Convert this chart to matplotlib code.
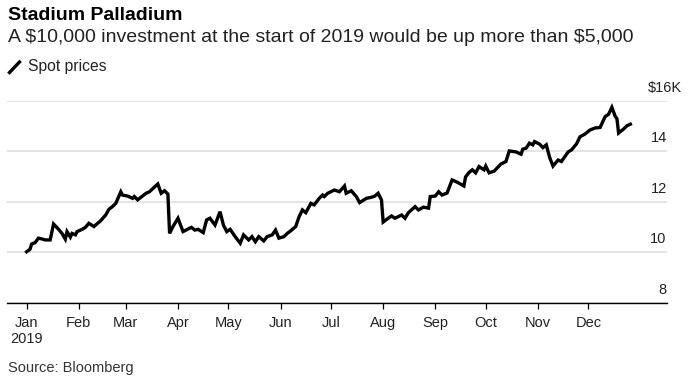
import matplotlib
matplotlib.use("Agg")
import matplotlib.pyplot as plt
from matplotlib.lines import Line2D
import pandas as pd

plt.rcParams["font.family"] = ["Liberation Sans", "DejaVu Sans"]

# days after 2019-01-01 and value of a $10,000 investment (in $K)
days = [
    0, 2, 3, 5, 7, 9, 11, 14, 16, 19,
    21, 23, 24, 26, 27, 29, 30, 33, 35, 37,
    40, 41, 44, 47, 49, 51, 53, 56, 57, 60,
    63, 64, 66, 71, 73, 78, 80, 82, 84, 85,
    87, 90, 93, 98, 100, 102, 105, 107, 109, 112,
    115, 117, 119, 121, 124, 127, 129, 132, 134, 136,
    138, 141, 143, 146, 148, 150, 153, 155, 157, 160,
    162, 164, 166, 169, 171, 174, 176, 177, 179, 183,
    186, 189, 190, 193, 196, 198, 202, 205, 207, 209,
    211, 212, 215, 217, 219, 223, 225, 227, 231, 233,
    236, 239, 240, 243, 245, 247, 250, 253, 256, 260,
    261, 263, 265, 267, 269, 272, 273, 275, 278, 282,
    285, 287, 291, 294, 295, 297, 299, 301, 302, 305,
    307, 309, 311, 313, 316, 318, 322, 324, 327, 329,
    332, 335, 338, 341, 344, 346, 348, 350, 351, 352,
    355, 357, 359,
]
values = [
    10.02, 10.12, 10.33, 10.38, 10.56, 10.53, 10.49, 10.49, 11.12, 10.91,
    10.75, 10.52, 10.82, 10.60, 10.75, 10.69, 10.82, 10.91, 10.99, 11.15,
    11.02, 11.08, 11.25, 11.48, 11.71, 11.81, 11.94, 12.40, 12.27, 12.23,
    12.14, 12.21, 12.08, 12.34, 12.40, 12.71, 12.34, 12.44, 12.31, 10.75,
    11.02, 11.35, 10.82, 10.99, 10.88, 10.91, 10.78, 11.28, 11.35, 11.08,
    11.61, 11.08, 10.82, 10.91, 10.62, 10.36, 10.69, 10.49, 10.62, 10.42,
    10.62, 10.45, 10.62, 10.69, 10.88, 10.56, 10.62, 10.75, 10.85, 11.02,
    11.41, 11.68, 11.57, 11.94, 11.88, 12.14, 12.27, 12.21, 12.34, 12.47,
    12.40, 12.63, 12.34, 12.44, 12.21, 11.97, 12.14, 12.18, 12.23, 12.34,
    12.08, 11.20, 11.35, 11.44, 11.35, 11.48, 11.35, 11.57, 11.81, 11.68,
    11.79, 11.75, 12.21, 12.23, 12.40, 12.27, 12.35, 12.87, 12.78, 12.63,
    12.99, 13.16, 13.27, 13.15, 13.40, 13.27, 13.42, 13.15, 13.22, 13.50,
    13.60, 14.02, 13.98, 13.89, 14.09, 14.13, 14.33, 14.26, 14.39, 14.29,
    14.15, 14.26, 13.76, 13.42, 13.66, 13.60, 13.98, 14.06, 14.30, 14.58,
    14.69, 14.85, 14.93, 14.95, 15.38, 15.47, 15.75, 15.39, 15.30, 14.73,
    14.89, 15.02, 15.08,
]
y_ticks = [8, 10, 12, 14, 16]
y_labels = ["8", "10", "12", "14", "$16K"]

start = pd.Timestamp("2019-01-01")
dates = start + pd.to_timedelta(days, unit="D")

fig = plt.figure(figsize=(6.93, 3.87), dpi=100)
ax = fig.add_axes([7.3 / 693, 1 - 302.7 / 387, (666.7 - 7.3) / 693, (302.7 - 101) / 387])

ax.plot(dates, values, color="black", linewidth=2.4, solid_joinstyle="miter", zorder=3)

ax.set_ylim(8, 16)
ax.set_xlim(start - pd.Timedelta(days=11.5), start + pd.Timedelta(days=380.6))
ax.set_yticks(y_ticks)
ax.tick_params(axis="y", length=0, labelleft=False, labelright=False)
ax.grid(axis="y", color="#dcdcdc", linewidth=1.1)
ax.set_axisbelow(True)
for spine in ("top", "right", "left"):
    ax.spines[spine].set_visible(False)
ax.spines["bottom"].set_color("black")
ax.spines["bottom"].set_linewidth(1.0)

month_labels = [pd.Timestamp(2019, m, 1).strftime("%b") for m in range(1, 13)]
month_labels[0] = "Jan\n2019"
ax.set_xticks(pd.date_range("2019-01-01", periods=12, freq="MS"))
ax.set_xticklabels(month_labels, fontsize=10.5, color="#222222", linespacing=1.2)
ax.tick_params(axis="x", length=4.5, width=0.9, color="black", pad=5)

for v, lab in zip(y_ticks, y_labels):
    dx = 11 if lab.startswith("$") else 0
    ax.annotate(lab, xy=(1, v), xycoords=("axes fraction", "data"),
                xytext=(dx, 6.5), textcoords="offset points",
                ha="right", va="baseline", fontsize=10.5, color="#222222",
                annotation_clip=False)

fig.text(8 / 693, 1 - 15 / 387, "Stadium Palladium", fontsize=14,
         fontweight="bold", va="center", ha="left", color="black")
fig.text(8 / 693, 1 - 37 / 387,
         "A \\$10,000 investment at the start of 2019 would be up more than \\$5,000",
         fontsize=14, va="center", ha="left", color="#222222")
fig.add_artist(Line2D([9.5 / 693, 19.5 / 693], [1 - 72.5 / 387, 1 - 62 / 387],
                      transform=fig.transFigure, color="black", linewidth=2.4))
fig.text(28 / 693, 1 - 67 / 387, "Spot prices", fontsize=11.3, va="center",
         ha="left", color="#222222")
fig.text(8 / 693, 1 - 368 / 387, "Source: Bloomberg", fontsize=10.5,
         va="center", ha="left", color="#333333")

fig.savefig("out.png", dpi=100)
